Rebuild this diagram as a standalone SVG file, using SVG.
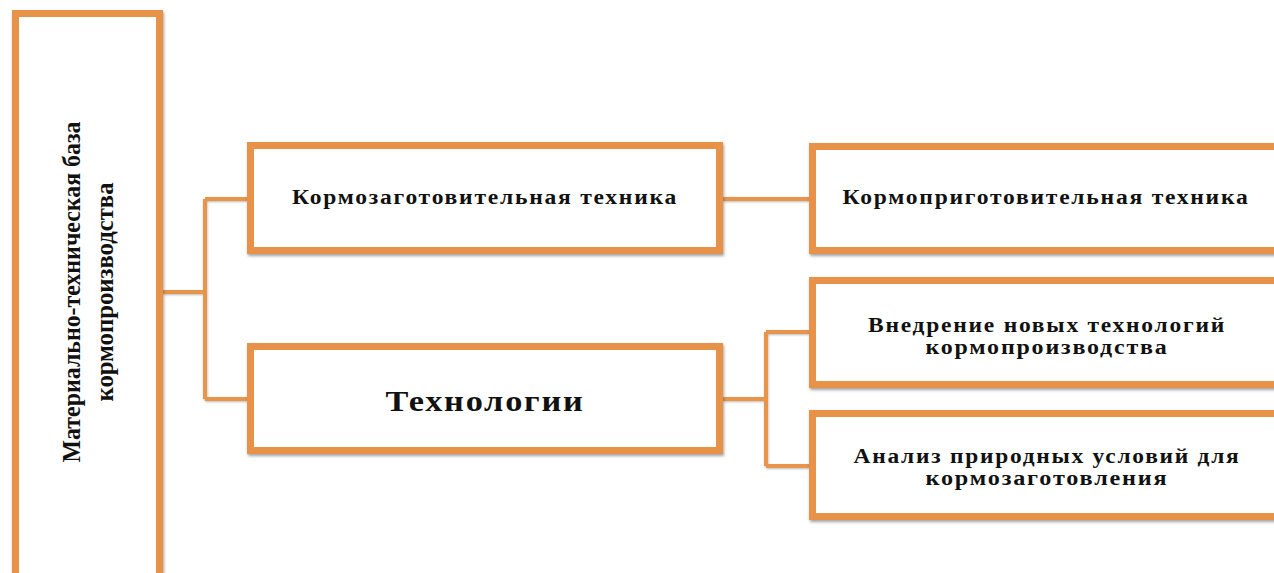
<svg xmlns="http://www.w3.org/2000/svg" width="1274" height="573" viewBox="0 0 1274 573">
<style>
.box{fill:#ffffff;stroke:#E8924A;stroke-width:7;filter:url(#sh)}
.con{fill:none;stroke:#E8944C;stroke-width:4;filter:url(#sh2)}
.t{font-family:"Liberation Serif","Times New Roman",serif;font-weight:bold;fill:#111;text-anchor:middle}
.s{letter-spacing:1.5px}
</style>
<defs>
<filter id="sh" filterUnits="userSpaceOnUse" x="0" y="0" width="1274" height="573">
<feDropShadow dx="1" dy="2" stdDeviation="1.5" flood-color="#555" flood-opacity="0.55"/>
</filter>
<filter id="sh2" filterUnits="userSpaceOnUse" x="0" y="0" width="1274" height="573">
<feDropShadow dx="0.5" dy="1" stdDeviation="0.8" flood-color="#666" flood-opacity="0.45"/>
</filter>
</defs>
<g id="connectors">
<path class="con" d="M163 292 H205 M205 199 V399 M205 199 H247 M205 399 H247"/>
<path class="con" d="M723 199 H809"/>
<path class="con" d="M723 399 H766 M766 332 V466 M766 332 H809 M766 466 H809"/>
</g>
<g id="node-base">
<rect class="box" x="15.5" y="13.5" width="144" height="600"/>
<text class="t" font-size="25" transform="translate(80,292) rotate(-90)" textLength="341" lengthAdjust="spacingAndGlyphs">Материально-техническая база</text>
<text class="t" font-size="25" transform="translate(113,292) rotate(-90)" textLength="219" lengthAdjust="spacingAndGlyphs">кормопроизводства</text>
</g>
<g id="node-harvest">
<rect class="box" x="250.5" y="145.5" width="469" height="105"/>
<text class="t s" font-size="20" x="485" y="204" textLength="386" lengthAdjust="spacingAndGlyphs">Кормозаготовительная техника</text>
</g>
<g id="node-prep">
<rect class="box" x="812.5" y="146.5" width="500" height="104"/>
<text class="t s" font-size="20" x="1046" y="204" textLength="407" lengthAdjust="spacingAndGlyphs">Кормоприготовительная техника</text>
</g>
<g id="node-tech">
<rect class="box" x="250.5" y="346.5" width="469" height="104"/>
<text class="t s" font-size="29" x="485" y="411" textLength="199" lengthAdjust="spacingAndGlyphs">Технологии</text>
</g>
<g id="node-new">
<rect class="box" x="812.5" y="280.5" width="500" height="104"/>
<text class="t s" font-size="20" x="1047" y="332" textLength="358" lengthAdjust="spacingAndGlyphs">Внедрение новых технологий</text>
<text class="t s" font-size="20" x="1047" y="354" textLength="243" lengthAdjust="spacingAndGlyphs">кормопроизводства</text>
</g>
<g id="node-analysis">
<rect class="box" x="812.5" y="413.5" width="500" height="103"/>
<text class="t s" font-size="20" x="1047" y="463" textLength="387" lengthAdjust="spacingAndGlyphs">Анализ природных условий для</text>
<text class="t s" font-size="20" x="1047" y="485" textLength="243" lengthAdjust="spacingAndGlyphs">кормозаготовления</text>
</g>
</svg>
